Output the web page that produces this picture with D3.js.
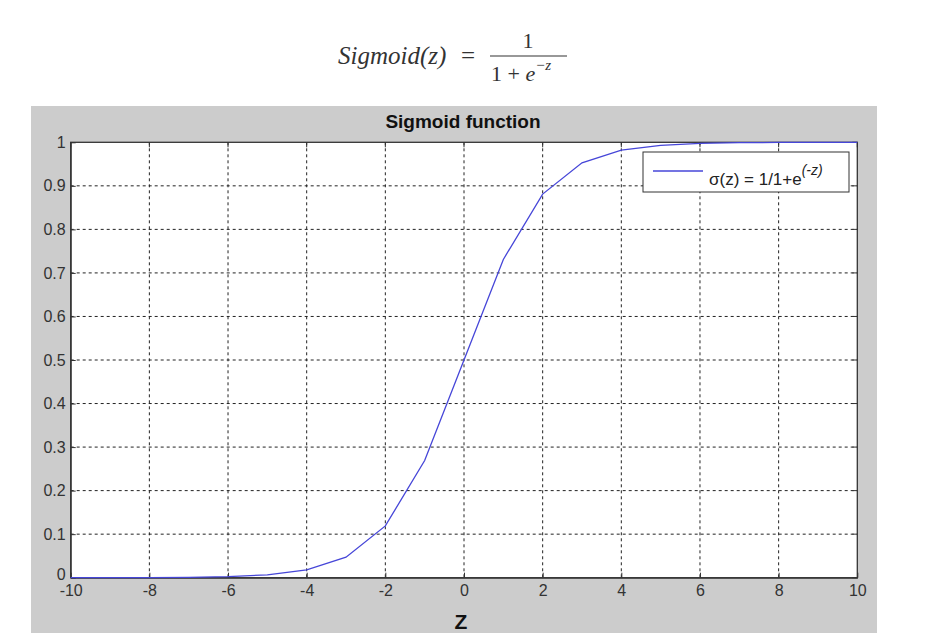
<!DOCTYPE html>
<html><head><meta charset="utf-8">
<script src="https://cdn.jsdelivr.net/npm/d3@7"></script>
<style>body{margin:0;background:#fff;} svg{display:block;}</style>
</head><body>
<svg id="c" width="925" height="642"></svg>
<script>
const zValues = [-10,-9,-8,-7,-6,-5,-4,-3,-2,-1,0,1,2,3,4,5,6,7,8,9,10];
const sigmaValues = [0.00005,0.00012,0.00034,0.00091,0.0025,0.0067,0.018,0.047,0.119,0.269,0.5,0.731,0.881,0.953,0.982,0.993,0.9975,0.9991,0.9997,0.9999,0.99995];
const xTicks = [-10,-8,-6,-4,-2,0,2,4,6,8,10];
const yTicks = [0,0.1,0.2,0.3,0.4,0.5,0.6,0.7,0.8,0.9,1];
const titleText = "Sigmoid function";
const xLabel = "Z";

const svg = d3.select("#c");
// formula
const f = svg.append("g").attr("font-family","'Liberation Serif','DejaVu Serif',serif").attr("fill","#333");
f.append("text").attr("x",338).attr("y",64).attr("font-size",25).attr("font-style","italic").text("Sigmoid(z)");
f.append("text").attr("x",468).attr("y",64).attr("text-anchor","middle").attr("font-size",25).text("=");
f.append("line").attr("x1",490).attr("x2",567).attr("y1",56).attr("y2",56).attr("stroke","#333").attr("stroke-width",1.2);
f.append("text").attr("x",528).attr("y",48).attr("text-anchor","middle").attr("font-size",22).text("1");
const den = f.append("text").attr("x",491).attr("y",81).attr("font-size",22);
den.append("tspan").text("1 + ");
den.append("tspan").attr("font-style","italic").text("e");
den.append("tspan").attr("dy",-11).attr("font-size",15).attr("font-style","italic").text("−z");

// panel
svg.append("rect").attr("x",31).attr("y",106).attr("width",846).attr("height",527).attr("fill","#cccccc");
const L=70.7,R=857.3,T=142.3,B=577.7;
const x = d3.scaleLinear().domain([-10,10]).range([L,R]);
const y = d3.scaleLinear().domain([0,1]).range([B,T]);
svg.append("rect").attr("x",L).attr("y",T).attr("width",R-L).attr("height",B-T).attr("fill","#fff");

const grid = svg.append("g").attr("stroke","#222").attr("stroke-width",1).attr("stroke-dasharray","3,3");
grid.selectAll(".gx").data(xTicks.slice(1,-1)).join("line").attr("x1",d=>x(d)).attr("x2",d=>x(d)).attr("y1",T).attr("y2",B);
grid.selectAll(".gy").data(yTicks.slice(1,-1)).join("line").attr("y1",d=>y(d)).attr("y2",d=>y(d)).attr("x1",L).attr("x2",R);

const xAxis = svg.append("g").attr("transform",`translate(0,${B})`)
  .call(d3.axisBottom(x).tickValues(xTicks).tickSizeInner(-5).tickSizeOuter(0).tickPadding(5).tickFormat(d=>String(d)));
const yAxis = svg.append("g").attr("transform",`translate(${L},0)`)
  .call(d3.axisLeft(y).tickValues(yTicks).tickSizeInner(-5).tickSizeOuter(0).tickPadding(5).tickFormat(d=>d===0?"0":d===1?"1":d3.format(".1f")(d)));
[xAxis,yAxis].forEach(a=>{a.attr("font-size",16).attr("font-family","Arial,'Liberation Sans',sans-serif");a.selectAll("text").attr("fill","#333");a.selectAll("line,path").attr("stroke","#333");});
xAxis.selectAll("text").attr("dy","0.85em");
yAxis.selectAll("text").filter(d=>d===0).attr("dy","0.1em");
// box
svg.append("rect").attr("x",L).attr("y",T).attr("width",R-L).attr("height",B-T).attr("fill","none").attr("stroke","#333").attr("stroke-width",1.3);
// top/right ticks
const tk = svg.append("g").attr("stroke","#333");
tk.selectAll(".tt").data(xTicks).join("line").attr("x1",d=>x(d)).attr("x2",d=>x(d)).attr("y1",T).attr("y2",T+5);
tk.selectAll(".rt").data(yTicks).join("line").attr("y1",d=>y(d)).attr("y2",d=>y(d)).attr("x1",R).attr("x2",R-5);

// line
const data = zValues.map((z,i)=>({z,s:sigmaValues[i]}));
svg.append("path").datum(data).attr("fill","none").attr("stroke","#4646d8").attr("stroke-width",1.3)
  .attr("d",d3.line().x(d=>x(d.z)).y(d=>y(d.s)));

// title
svg.append("text").attr("x",463).attr("y",128).attr("text-anchor","middle").attr("font-family","Arial,'Liberation Sans',sans-serif").attr("font-weight","bold").attr("font-size",19).attr("fill","#111").text(titleText);
svg.append("text").attr("x",461).attr("y",629).attr("text-anchor","middle").attr("font-family","Arial,'Liberation Sans',sans-serif").attr("font-weight","bold").attr("font-size",21).attr("fill","#111").text(xLabel);

// legend
const lg = svg.append("g");
lg.append("rect").attr("x",643).attr("y",152).attr("width",206).attr("height",40).attr("fill","#fff").attr("stroke","#333").attr("stroke-width",1);
lg.append("line").attr("x1",653).attr("x2",703).attr("y1",171).attr("y2",171).attr("stroke","#4646d8").attr("stroke-width",1.3);
const lt = lg.append("text").attr("x",709).attr("y",185).attr("font-family","Arial,'Liberation Sans',sans-serif").attr("font-size",17).attr("fill","#222");
lt.append("tspan").text("σ(z) = 1/1+e");
lt.append("tspan").attr("dy",-10).attr("font-size",14).attr("font-style","italic").text("(-z)");
</script>
</body></html>
